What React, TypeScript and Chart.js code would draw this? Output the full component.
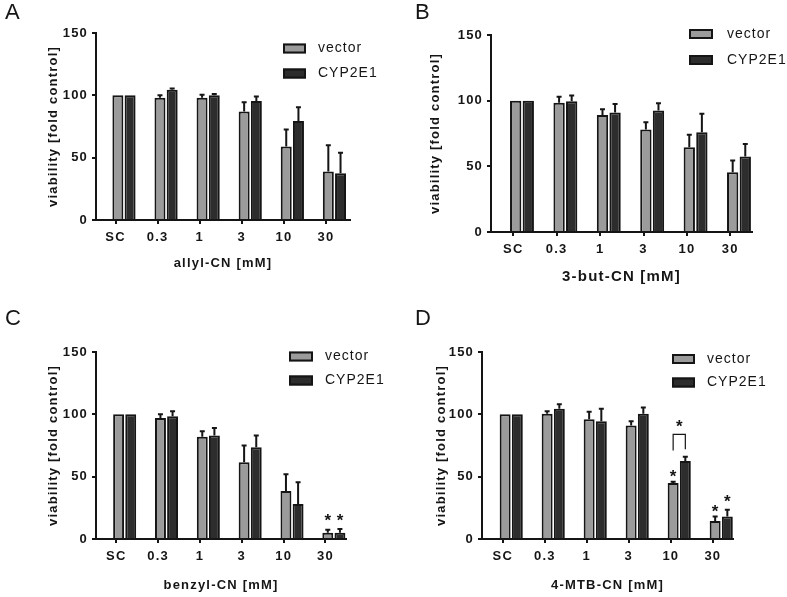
import { useEffect, useRef } from "react";
import { Chart, registerables } from "chart.js";
Chart.register(...registerables);

const CATEGORIES = ["SC", "0.3", "1", "3", "10", "30"];
const SERIES_NAMES = ["vector", "CYP2E1"];
const Y_TICKS_STEP = 50;

// Panel A: allyl-CN
const A_VECTOR = [100, 98, 98, 87, 59, 39];
const A_VECTOR_ERR = [0, 2, 2.5, 7.5, 13.5, 21];
const A_CYP = [100, 104.5, 100, 95.5, 79.5, 37.5];
const A_CYP_ERR = [0, 1, 1, 3.5, 11, 16.5];

// Panel B: 3-but-CN
const B_VECTOR = [100, 98.5, 89, 78, 64.5, 45.5];
const B_VECTOR_ERR = [0, 4.5, 4.5, 5.5, 9.5, 9];
const B_CYP = [100, 99.5, 91, 92.5, 76, 57.5];
const B_CYP_ERR = [0, 4.5, 6.5, 5.5, 14, 9.5];

// Panel C: benzyl-CN
const C_VECTOR = [100, 97, 82, 61.5, 38.5, 5];
const C_VECTOR_ERR = [0, 3, 4.5, 13.5, 13.5, 2.5];
const C_CYP = [100, 98.5, 83, 73.5, 28, 5];
const C_CYP_ERR = [0, 4, 6, 9.5, 17.5, 3];
const C_STARS = [
  { cat: 5, series: 0, value: 18 },
  { cat: 5, series: 1, value: 18 },
];

// Panel D: 4-MTB-CN
const D_VECTOR = [100, 100.5, 96, 91, 45, 14.5];
const D_VECTOR_ERR = [0, 2, 6, 3.5, 1, 3.5];
const D_CYP = [100, 104.5, 94.5, 100.5, 62.5, 18];
const D_CYP_ERR = [0, 3.5, 10, 5, 3.5, 5.5];
const D_STARS = [
  { cat: 4, series: 0, value: 53 },
  { cat: 4, series: 0.5, value: 93 },
  { cat: 5, series: 0, value: 25 },
  { cat: 5, series: 1, value: 33 },
];
const D_BRACKETS = [{ cat: 4, top: 84, leftBottom: 71, rightBottom: 72 }];

const TICK_SHIFT = -0.2;
const FONT = '"Liberation Sans", Arial, sans-serif';
const INK = "#151515";
const COLORS = ["#9b9b9b", "#2d2d2d"];

Chart.defaults.font.family = FONT;
Chart.defaults.color = INK;

type Panel = {
  letter: string;
  title: string;
  vector: number[];
  vectorErr: number[];
  cyp: number[];
  cypErr: number[];
  stars: { cat: number; series: number; value: number }[];
  brackets: { cat: number; top: number; leftBottom: number; rightBottom: number }[];
  left: number;
  top: number;
  w: number;
  h: number;
  chartLeft: number;
  chartRight: number;
  chartTop: number;
  chartBottom: number;
  xMin: number;
  xMax: number;
  xTitleOffset: number;
  xTitleSize: number;
  yTitleX: number;
  legend: { x: number; w: number; h: number; cy: number; dy: number; tx: number };
  letterX: number;
  letterY: number;
};

const PANELS: Panel[] = [
  {
    letter: "A", title: "allyl-CN [mM]",
    vector: A_VECTOR, vectorErr: A_VECTOR_ERR, cyp: A_CYP, cypErr: A_CYP_ERR,
    stars: [], brackets: [],
    left: 0, top: 0, w: 393, h: 300,
    chartLeft: 96, chartRight: 350, chartTop: 33, chartBottom: 220,
    xMin: -0.665, xMax: 5.37, xTitleOffset: 43, xTitleSize: 13, yTitleX: 53,
    legend: { x: 283, w: 23, h: 10, cy: 48.5, dy: 25, tx: 318 },
    letterX: 5, letterY: 1,
  },
  {
    letter: "B", title: "3-but-CN [mM]",
    vector: B_VECTOR, vectorErr: B_VECTOR_ERR, cyp: B_CYP, cypErr: B_CYP_ERR,
    stars: [], brackets: [],
    left: 393, top: 0, w: 394, h: 300,
    chartLeft: 491, chartRight: 752, chartTop: 35, chartBottom: 232,
    xMin: -0.714, xMax: 5.3, xTitleOffset: 45, xTitleSize: 15, yTitleX: 435,
    legend: { x: 689, w: 24, h: 10, cy: 34, dy: 26, tx: 727 },
    letterX: 415, letterY: 1,
  },
  {
    letter: "C", title: "benzyl-CN [mM]",
    vector: C_VECTOR, vectorErr: C_VECTOR_ERR, cyp: C_CYP, cypErr: C_CYP_ERR,
    stars: C_STARS, brackets: [],
    left: 0, top: 300, w: 393, h: 297,
    chartLeft: 96, chartRight: 346, chartTop: 352, chartBottom: 539,
    xMin: -0.685, xMax: 5.29, xTitleOffset: 46, xTitleSize: 13, yTitleX: 53,
    legend: { x: 289, w: 24, h: 10, cy: 356.5, dy: 24, tx: 325 },
    letterX: 5, letterY: 307,
  },
  {
    letter: "D", title: "4-MTB-CN [mM]",
    vector: D_VECTOR, vectorErr: D_VECTOR_ERR, cyp: D_CYP, cypErr: D_CYP_ERR,
    stars: D_STARS, brackets: D_BRACKETS,
    left: 393, top: 300, w: 394, h: 297,
    chartLeft: 482, chartRight: 733, chartTop: 352, chartBottom: 539,
    xMin: -0.696, xMax: 5.28, xTitleOffset: 46, xTitleSize: 13, yTitleX: 441,
    legend: { x: 672, w: 23, h: 10, cy: 359, dy: 23.5, tx: 707 },
    letterX: 415, letterY: 307,
  },
];

const spacingPlugin = {
  id: "spacing",
  beforeLayout(chart: any, _a: any, opts: any) {
    chart.ctx.letterSpacing = opts.px + "px";
  },
  beforeDraw(chart: any, _a: any, opts: any) {
    chart.ctx.letterSpacing = opts.px + "px";
  },
};

const errorBarPlugin = {
  id: "errorBars",
  afterDatasetsDraw(chart: any) {
    const ctx = chart.ctx;
    const yScale = chart.scales.y;
    chart.data.datasets.forEach((ds: any, di: number) => {
      const meta = chart.getDatasetMeta(di);
      const errs: number[] = ds.errors || [];
      meta.data.forEach((el: any, i: number) => {
        const e = errs[i];
        if (!e) return;
        const v = ds.data[i].y;
        const yTop = yScale.getPixelForValue(v + e);
        ctx.save();
        ctx.strokeStyle = INK;
        ctx.lineWidth = 2;
        ctx.beginPath();
        ctx.moveTo(el.x, el.y);
        ctx.lineTo(el.x, yTop);
        ctx.moveTo(el.x - 2.5, yTop);
        ctx.lineTo(el.x + 2.5, yTop);
        ctx.stroke();
        ctx.restore();
      });
    });
  },
};

const marksPlugin = {
  id: "marks",
  afterDatasetsDraw(chart: any, _a: any, opts: any) {
    const ctx = chart.ctx;
    const yScale = chart.scales.y;
    const m0 = chart.getDatasetMeta(0).data;
    const m1 = chart.getDatasetMeta(1).data;
    (opts.brackets || []).forEach((b: any) => {
      const x0 = m0[b.cat].x;
      const x1 = m1[b.cat].x;
      ctx.save();
      ctx.strokeStyle = INK;
      ctx.lineWidth = 1.2;
      ctx.beginPath();
      ctx.moveTo(x0, yScale.getPixelForValue(b.leftBottom));
      ctx.lineTo(x0, yScale.getPixelForValue(b.top));
      ctx.lineTo(x1, yScale.getPixelForValue(b.top));
      ctx.lineTo(x1, yScale.getPixelForValue(b.rightBottom));
      ctx.stroke();
      ctx.restore();
    });
    (opts.stars || []).forEach((s: any) => {
      const x0 = m0[s.cat].x;
      const x1 = m1[s.cat].x;
      const x = x0 + (x1 - x0) * s.series;
      const y = yScale.getPixelForValue(s.value);
      ctx.save();
      ctx.fillStyle = INK;
      ctx.font = `bold 17px ${FONT}`;
      ctx.letterSpacing = "0px";
      ctx.textAlign = "center";
      ctx.textBaseline = "alphabetic";
      ctx.fillText("*", x, y + 9);
      ctx.restore();
    });
  },
};

const boxLegendPlugin = {
  id: "boxLegend",
  afterDraw(chart: any, _a: any, opts: any) {
    const ctx = chart.ctx;
    chart.data.datasets.forEach((ds: any, i: number) => {
      const cy = opts.cy + i * opts.dy;
      ctx.save();
      ctx.fillStyle = ds.backgroundColor;
      ctx.fillRect(opts.x, cy - opts.h / 2, opts.w, opts.h);
      ctx.strokeStyle = INK;
      ctx.lineWidth = 2;
      ctx.strokeRect(opts.x + 1, cy - opts.h / 2 + 1, opts.w - 2, opts.h - 2);
      ctx.fillStyle = INK;
      ctx.font = `14px ${FONT}`;
      ctx.letterSpacing = "1px";
      ctx.textAlign = "left";
      ctx.textBaseline = "middle";
      ctx.fillText(ds.label, opts.tx, cy);
      ctx.restore();
    });
  },
};

function makeConfig(p: Panel): any {
  const xTitleLine = p.xTitleSize * 1.2;
  const xAxisH = p.xTitleOffset + xTitleLine / 2;
  const chartBottomRel = p.chartBottom - p.top;
  const mkData = (vals: number[]) => vals.map((y, i) => ({ x: i, y }));
  return {
    type: "bar",
    data: {
      datasets: [
        {
          label: SERIES_NAMES[0],
          data: mkData(p.vector),
          errors: p.vectorErr,
          backgroundColor: COLORS[0],
          borderColor: INK,
          borderWidth: 2,
        },
        {
          label: SERIES_NAMES[1],
          data: mkData(p.cyp),
          errors: p.cypErr,
          backgroundColor: COLORS[1],
          borderColor: INK,
          borderWidth: 2,
        },
      ],
    },
    options: {
      animation: false,
      responsive: false,
      devicePixelRatio: 1,
      events: [],
      barPercentage: 0.9,
      categoryPercentage: 0.58,
      layout: {
        padding: {
          left: 0,
          top: p.chartTop - p.top,
          right: p.w - (p.chartRight - p.left),
          bottom: p.h - chartBottomRel - xAxisH,
        },
      },
      scales: {
        x: {
          type: "linear",
          min: p.xMin,
          max: p.xMax,
          offset: false,
          afterBuildTicks: (axis: any) => {
            axis.ticks = CATEGORIES.map((_, i) => ({ value: i + TICK_SHIFT }));
          },
          afterFit: (axis: any) => {
            axis.height = xAxisH;
          },
          ticks: {
            autoSkip: false,
            maxRotation: 0,
            padding: 6,
            font: { size: 13, weight: "bold" },
            color: INK,
            callback: (v: number) => CATEGORIES[Math.round(v - TICK_SHIFT)],
          },
          grid: {
            display: true,
            offset: false,
            drawOnChartArea: false,
            drawTicks: true,
            tickLength: 4,
            color: INK,
            lineWidth: 2,
          },
          border: { display: true, color: INK, width: 2 },
          title: {
            display: true,
            text: p.title,
            font: { size: p.xTitleSize, weight: "bold" },
            color: INK,
            padding: 0,
          },
        },
        y: {
          type: "linear",
          min: 0,
          max: 150,
          afterFit: (axis: any) => {
            axis.width = p.chartLeft - p.left;
          },
          ticks: {
            stepSize: Y_TICKS_STEP,
            padding: 4,
            font: { size: 13, weight: "bold" },
            color: INK,
          },
          grid: {
            display: true,
            drawOnChartArea: false,
            drawTicks: true,
            tickLength: 4,
            color: INK,
            lineWidth: 2,
          },
          border: { display: true, color: INK, width: 2 },
          title: {
            display: true,
            text: "viability [fold control]",
            font: { size: 13, weight: "bold" },
            color: INK,
            padding: { top: p.yTitleX - p.left - 7.8, bottom: 0 },
          },
        },
      },
      plugins: {
        legend: { display: false },
        tooltip: { enabled: false },
        spacing: { px: 1.2 },
        marks: { stars: p.stars, brackets: p.brackets },
        boxLegend: {
          x: p.legend.x - p.left,
          w: p.legend.w,
          h: p.legend.h,
          cy: p.legend.cy - p.top,
          dy: p.legend.dy,
          tx: p.legend.tx - p.left,
        },
      },
    },
    plugins: [spacingPlugin, errorBarPlugin, marksPlugin, boxLegendPlugin],
  };
}

function PanelChart({ panel }: { panel: Panel }) {
  const ref = useRef<HTMLCanvasElement>(null);
  useEffect(() => {
    const chart = new Chart(ref.current as HTMLCanvasElement, makeConfig(panel));
    return () => chart.destroy();
  }, [panel]);
  return (
    <canvas
      ref={ref}
      width={panel.w}
      height={panel.h}
      style={{ position: "absolute", left: panel.left, top: panel.top, width: panel.w, height: panel.h }}
    />
  );
}

export default function App() {
  return (
    <div style={{ position: "absolute", left: 0, top: 0, width: 787, height: 597, background: "#fff", overflow: "hidden" }}>
      {PANELS.map((p) => (
        <PanelChart key={p.letter} panel={p} />
      ))}
      {PANELS.map((p) => (
        <div
          key={"l" + p.letter}
          style={{
            position: "absolute",
            left: p.letterX,
            top: p.letterY,
            font: `22px ${FONT}`,
            lineHeight: "22px",
            color: INK,
          }}
        >
          {p.letter}
        </div>
      ))}
    </div>
  );
}
